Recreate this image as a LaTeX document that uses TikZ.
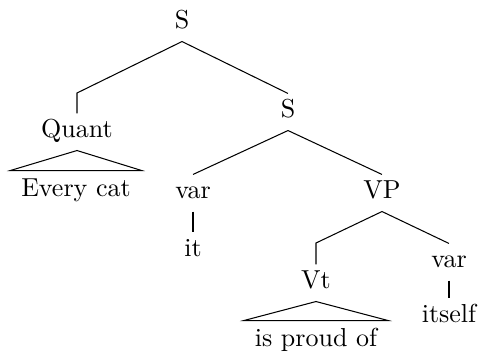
\documentclass[tikz,border=0pt]{standalone}
\begin{document}
\begin{tikzpicture}[x=0.3846pt, y=-0.3846pt,
  cat/.style={anchor=base, inner xsep=0pt, inner ysep=0pt,
              text height=8.85pt, text depth=5pt},
  leaf/.style={anchor=base, inner xsep=0pt, inner ysep=0pt,
              text height=8.85pt, text depth=2pt},
  roofed/.style={anchor=base, inner xsep=4pt, inner ysep=0pt,
              text height=9.6pt, text depth=2pt},
  branch/.style={line width=0.4pt}]
\useasboundingbox (0,0) rectangle (478,354);

% category labels
\node[cat] (s0)    at (182,28)  {S};
\node[cat] (quant) at (77,137)  {Quant};
\node[cat] (s1)    at (288,117) {S};
\node[cat] (var1)  at (193,198) {var};
\node[cat] (vp)    at (382,198) {VP};
\node[cat] (vt)    at (316,288) {Vt};
\node[cat] (var2)  at (449,267) {var};

% terminals
\node[roofed] (every) at (76,196)  {Every cat};
\node[leaf]   (it)    at (193,256) {it};
\node[leaf]   (self)  at (449,322) {itself};
\node[roofed] (proud) at (316,346) {is proud of};

% elbows for lowered daughters
\coordinate (qbend) at (77,93);
\coordinate (vbend) at (316,243);

% branches
\draw[branch] (s0.south) -- (qbend) -- (quant.north);
\draw[branch] (s0.south) -- (s1.north);
\draw[branch] (s1.south) -- (var1.north);
\draw[branch] (s1.south) -- (vp.north);
\draw[branch] (var1.south) -- (it.north);
\draw[branch] (vp.south) -- (vbend) -- (vt.north);
\draw[branch] (vp.south) -- (var2.north);
\draw[branch] (var2.south) -- (self.north);

% roofs
\draw[branch] (quant.south) -- (every.north west) -- (every.north east) -- cycle;
\draw[branch] (vt.south) -- (proud.north west) -- (proud.north east) -- cycle;
\end{tikzpicture}
\end{document}
